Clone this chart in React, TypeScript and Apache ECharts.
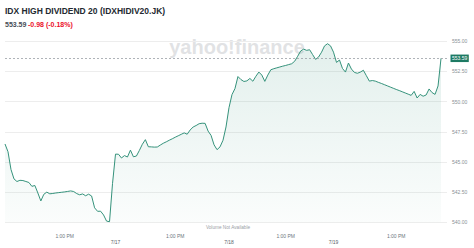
import React, { useEffect, useRef } from 'react';
import * as echarts from 'echarts';

// Price per time slot (5-day intraday view, 7/16 .. 7/19)
const prices: number[] = [
  546.49, 545.85, 544.38, 543.6, 543.38, 543.48, 543.46, 543.38, 543.3, 542.98,
  543.05, 542.43, 541.77, 542.32, 542.5, 542.36, 542.39, 542.43, 542.46, 542.49,
  542.52, 542.56, 542.6, 542.55, 542.38, 542.28, 542.35, 542.2, 542.33, 542.18,
  541.2, 540.91, 540.92, 540.61, 540.1, 540.05, 543.2, 545.65, 545.64, 545.33,
  545.53, 545.41, 545.98, 545.43, 545.49, 545.96, 546.47, 546.85, 546.26, 546.25,
  546.23, 546.24, 546.4, 546.55, 546.67, 546.8, 546.92, 547.05, 547.17, 547.29,
  547.41, 547.3, 547.65, 547.9, 548.02, 548.17, 548.21, 548.2, 547.56, 547.2,
  546.42, 546.02, 546.25, 546.8, 547.9, 549.5, 550.58, 551.08, 552.08, 551.83,
  551.67, 551.72, 551.92, 551.69, 552.1, 552.45, 552.2, 551.68, 552.2, 552.64,
  552.73, 552.8, 552.87, 552.94, 553.0, 553.07, 553.14, 553.35, 553.76, 554.2,
  554.35, 554.25, 554.3, 553.9, 553.5, 553.7, 554.1, 554.62, 554.8, 554.62,
  554.1, 553.25, 553.45, 552.75, 552.45, 553.2, 552.7, 552.42, 552.35, 552.45,
  552.6, 552.15, 551.7, 551.75, 551.7, 551.6, 551.51, 551.41, 551.31, 551.21,
  551.11, 551.01, 550.92, 550.82, 550.72, 550.62, 550.52, 550.85, 550.3, 550.6,
  550.45, 550.55, 551.05, 550.75, 550.6, 551.3, 553.59,
];

const SLOT_COUNT = 149;
const HOUR_TICK_IDX = [20, 57, 94, 131];
const HOUR_LABEL = '1:00 PM';
const DAY_TICK_IDX = [37, 75, 110];
const DAY_LABELS = ['7/17', '7/18', '7/19'];
const Y_MIN = 540;
const Y_MAX = 555;
const Y_STEP = 2.5;

const TITLE = 'IDX HIGH DIVIDEND 20 (IDXHIDIV20.JK)';
const LAST_PRICE = 553.59;
const CHANGE_TEXT = '-0.98 (-0.18%)';

const FONT = '"Liberation Sans", Arial, Helvetica, sans-serif';
const LINE_COLOR = '#35927b';

export default function App() {
  const ref = useRef<HTMLDivElement>(null);

  useEffect(() => {
    document.body.style.margin = '0';
    const chart = echarts.init(ref.current!, null, { renderer: 'svg' });
    const cats = Array.from({ length: SLOT_COUNT }, (_, i) => String(i));

    chart.setOption({
      animation: false,
      grid: { left: 5, right: 27, top: 41.3, bottom: 25.7 },
      xAxis: [
        {
          type: 'category',
          data: cats,
          boundaryGap: false,
          position: 'bottom',
          axisLine: { show: false },
          axisTick: { show: false },
          splitLine: { show: false },
          axisLabel: {
            interval: (i: number) => HOUR_TICK_IDX.includes(i),
            formatter: () => HOUR_LABEL,
            fontSize: 5,
            color: '#6e7780',
            margin: 11,
            fontFamily: FONT,
          },
        },
        {
          type: 'category',
          data: cats,
          boundaryGap: false,
          position: 'bottom',
          axisLine: { show: false },
          axisTick: { show: false },
          splitLine: { show: false },
          axisLabel: {
            interval: (i: number) => DAY_TICK_IDX.includes(i),
            formatter: (v: string) => {
              const k = DAY_TICK_IDX.indexOf(Number(v));
              return k >= 0 ? DAY_LABELS[k] : '';
            },
            fontSize: 5,
            color: '#5b636a',
            margin: 17,
            fontFamily: FONT,
          },
        },
      ],
      yAxis: {
        type: 'value',
        position: 'right',
        min: Y_MIN,
        max: Y_MAX,
        interval: Y_STEP,
        axisLine: { show: false },
        axisTick: { show: false },
        splitLine: { lineStyle: { color: '#ededed', width: 1 } },
        axisLabel: {
          formatter: (v: number) => v.toFixed(2),
          fontSize: 5,
          color: '#8a9096',
          margin: 5,
          fontFamily: FONT,
        },
      },
      graphic: [
        {
          type: 'text',
          z: 0,
          style: {
            text: 'yahoo!finance',
            x: 237,
            y: 47,
            align: 'center',
            verticalAlign: 'middle',
            fontSize: 20,
            fontWeight: 'bold',
            fontFamily: FONT,
            fill: 'rgba(195,198,202,0.5)',
          },
        },
        {
          type: 'text',
          style: {
            text: TITLE,
            x: 5,
            y: 11,
            verticalAlign: 'middle',
            fontSize: 8.5,
            fontWeight: 'bold',
            fontFamily: FONT,
            fill: '#232a31',
          },
        },
        {
          type: 'text',
          style: {
            text: LAST_PRICE.toFixed(2),
            x: 5,
            y: 24,
            verticalAlign: 'middle',
            fontSize: 7,
            fontWeight: 'bold',
            fontFamily: FONT,
            fill: '#464e56',
          },
        },
        {
          type: 'text',
          style: {
            text: CHANGE_TEXT,
            x: 28,
            y: 24,
            verticalAlign: 'middle',
            fontSize: 7,
            fontWeight: 'bold',
            fontFamily: FONT,
            fill: '#eb0f29',
          },
        },
        {
          type: 'text',
          style: {
            text: 'Volume Not Available',
            x: 228,
            y: 227,
            align: 'center',
            verticalAlign: 'middle',
            fontSize: 4.7,
            fontFamily: FONT,
            fill: '#9aa0a6',
          },
        },
      ],
      series: [
        {
          type: 'line',
          data: prices,
          xAxisIndex: 0,
          showSymbol: false,
          symbol: 'none',
          lineStyle: { color: LINE_COLOR, width: 1 },
          areaStyle: {
            color: new echarts.graphic.LinearGradient(0, 0, 0, 1, [
              { offset: 0, color: 'rgba(53,146,123,0.20)' },
              { offset: 1, color: 'rgba(53,146,123,0.03)' },
            ]),
          },
          markLine: {
            silent: true,
            symbol: ['none', 'none'],
            data: [{ yAxis: LAST_PRICE }],
            lineStyle: { type: [2, 2], color: '#9aa0a6', width: 0.8 },
            label: {
              position: 'end',
              formatter: LAST_PRICE.toFixed(2),
              backgroundColor: '#1d7a63',
              color: '#ffffff',
              fontSize: 5,
              fontFamily: FONT,
              padding: [1.5, 1.5, 1, 1.5],
              distance: 3.5,
            },
          },
        },
      ],
    });

    return () => {
      chart.dispose();
    };
  }, []);

  return <div ref={ref} style={{ width: 474, height: 248 }} />;
}
